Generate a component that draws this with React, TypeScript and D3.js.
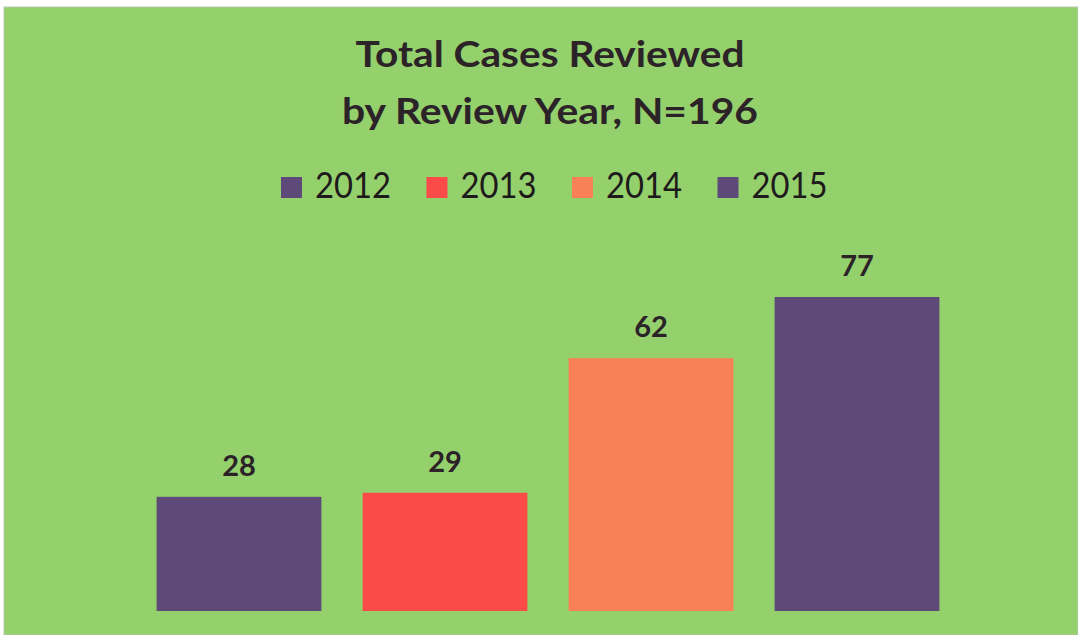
import React, { useEffect, useRef } from 'react';
import * as d3 from 'd3';

// chart data
const years = ['2012', '2013', '2014', '2015'];
const cases = [28, 29, 62, 77];
const barColors = ['#5e4a78', '#fb4b49', '#f98158', '#5e4a78'];
const titleLines = ['Total Cases Reviewed', 'by Review Year, N=196'];

const App = () => {
  const ref = useRef<SVGSVGElement>(null);

  useEffect(() => {
    const svg = d3.select(ref.current);
    svg.selectAll('*').remove();

    const width = 1078;
    const height = 635;
    const baseY = 611;

    // green panel
    svg.append('rect')
      .attr('x', 0).attr('y', 0)
      .attr('width', width).attr('height', height)
      .attr('fill', '#ffffff');
    svg.append('rect')
      .attr('x', 4).attr('y', 7)
      .attr('width', width - 4).attr('height', height - 7)
      .attr('fill', '#94d06c')
      .attr('stroke', '#b9c7b0')
      .attr('stroke-width', 1);

    // title
    const titleWidths = [389, 416];
    svg.append('g')
      .selectAll('text')
      .data(titleLines)
      .enter().append('text')
      .attr('x', 550)
      .attr('y', (d, i) => 67 + i * 57)
      .attr('text-anchor', 'middle')
      .attr('textLength', (d, i) => titleWidths[i])
      .attr('lengthAdjust', 'spacingAndGlyphs')
      .style('font-family', 'Lato, sans-serif')
      .style('font-weight', 'bold')
      .style('font-size', '37px')
      .style('fill', '#2c2328')
      .text(d => d);

    // scales
    const x = d3.scaleBand()
      .domain(years)
      .range([136, 960])
      .paddingInner(0.2)
      .paddingOuter(0.1);

    const y = d3.scaleLinear()
      .domain([0, 77])
      .range([baseY, 297]);

    const color = d3.scaleOrdinal<string, string>()
      .domain(years)
      .range(barColors);

    // legend
    const legend = svg.append('g')
      .attr('transform', 'translate(281, 177)');

    const item = legend.selectAll('g')
      .data(years)
      .enter().append('g')
      .attr('transform', (d, i) => `translate(${i * 145.5},0)`);

    item.append('rect')
      .attr('width', 21)
      .attr('height', 21)
      .attr('fill', d => color(d));

    item.append('text')
      .attr('x', 34)
      .attr('y', 21)
      .attr('textLength', 76)
      .attr('lengthAdjust', 'spacingAndGlyphs')
      .style('font-family', 'Lato, sans-serif')
      .style('font-size', '36px')
      .style('fill', '#1e1a1c')
      .text(d => d);

    // bars
    const data = years.map((yr, i) => ({ yr, value: cases[i] }));

    svg.append('g')
      .selectAll('rect')
      .data(data)
      .enter().append('rect')
      .attr('x', d => x(d.yr)!)
      .attr('y', d => y(d.value))
      .attr('width', x.bandwidth())
      .attr('height', d => y(0) - y(d.value))
      .attr('fill', d => color(d.yr));

    // value labels
    svg.append('g')
      .selectAll('text')
      .data(data)
      .enter().append('text')
      .attr('x', d => x(d.yr)! + x.bandwidth() / 2)
      .attr('y', d => y(d.value) - 21)
      .attr('text-anchor', 'middle')
      .style('font-family', 'Lato, sans-serif')
      .style('font-weight', 'bold')
      .style('font-size', '29px')
      .style('fill', '#2c2328')
      .text(d => d.value);
  }, []);

  return (
    <svg
      ref={ref}
      width="1078"
      height="635"
      style={{ position: 'absolute', left: 0, top: 0 }}
    ></svg>
  );
};

export default App;
